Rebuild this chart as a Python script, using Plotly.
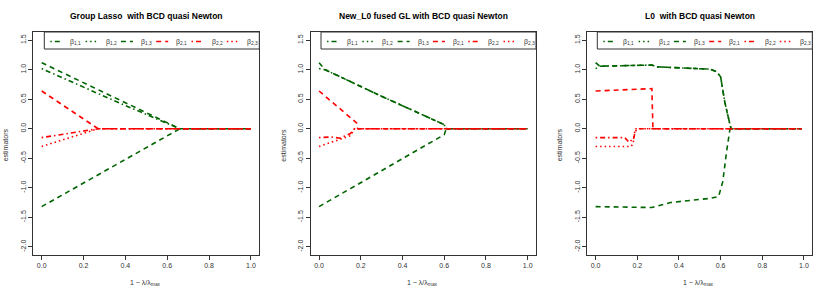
import plotly.graph_objects as go

# ---------------- data ----------------
titles = ["Group Lasso  with BCD quasi Newton",
          "New_L0 fused GL with BCD quasi Newton",
          "L0  with BCD quasi Newton"]
legend_labels = ["β<sub>1,1</sub>", "β<sub>1,2</sub>", "β<sub>1,3</sub>",
                 "β<sub>2,1</sub>", "β<sub>2,2</sub>", "β<sub>2,3</sub>"]
x_ticks = [0.0, 0.2, 0.4, 0.6, 0.8, 1.0]
x_ticktext = ["0.0", "0.2", "0.4", "0.6", "0.8", "1.0"]
y_ticks = [-2.0, -1.5, -1.0, -0.5, 0.0, 0.5, 1.0, 1.5]
y_ticktext = ["-2.0", "-1.5", "-1.0", "-0.5", "0.0", "0.5", "1.0", "1.5"]

# Panel 1: Group Lasso
gl_b11_x = [0.0, 0.35, 0.66, 1.0]
gl_b11_y = [1.02, 0.47, 0.0, 0.0]
gl_b12_x = [0.0, 0.66, 1.0]
gl_b12_y = [-1.32, 0.0, 0.0]
gl_b13_x = [0.0, 0.35, 0.66, 1.0]
gl_b13_y = [1.12, 0.53, 0.0, 0.0]
gl_b21_x = [0.0, 0.27, 1.0]
gl_b21_y = [0.64, 0.0, 0.0]
gl_b22_x = [0.0, 0.27, 1.0]
gl_b22_y = [-0.15, 0.0, 0.0]
gl_b23_x = [0.0, 0.27, 1.0]
gl_b23_y = [-0.30, 0.0, 0.0]

# Panel 2: New_L0 fused GL
nl_b11_x = [0.0, 0.03, 0.3, 0.6, 0.61, 1.0]
nl_b11_y = [1.02, 1.0, 0.55, 0.07, 0.0, 0.0]
nl_b12_x = [0.0, 0.3, 0.6, 0.61, 1.0]
nl_b12_y = [-1.32, -0.71, -0.1, 0.0, 0.0]
nl_b13_x = [0.0, 0.03, 0.3, 0.6, 0.61, 1.0]
nl_b13_y = [1.12, 1.0, 0.55, 0.07, 0.0, 0.0]
nl_b21_x = [0.0, 0.18, 0.185, 1.0]
nl_b21_y = [0.64, 0.1, 0.0, 0.0]
nl_b22_x = [0.0, 0.06, 0.1, 0.15, 0.17, 1.0]
nl_b22_y = [-0.15, -0.14, -0.16, -0.08, 0.0, 0.0]
nl_b23_x = [0.0, 0.1, 0.15, 0.17, 1.0]
nl_b23_y = [-0.30, -0.18, -0.12, 0.0, 0.0]

# Panel 3: L0
l0_b11_x = [0.0, 0.02, 0.27, 0.29, 0.55, 0.58, 0.6, 0.62, 0.645, 0.65, 0.99]
l0_b11_y = [1.02, 1.06, 1.08, 1.05, 1.01, 0.97, 0.88, 0.45, 0.07, 0.0, 0.0]
l0_b12_x = [0.0, 0.27, 0.36, 0.55, 0.59, 0.61, 0.63, 0.645, 0.99]
l0_b12_y = [-1.32, -1.335, -1.25, -1.18, -1.15, -0.9, -0.35, 0.0, 0.0]
l0_b13_x = [0.0, 0.02, 0.27, 0.29, 0.55, 0.58, 0.6, 0.62, 0.645, 0.65, 0.99]
l0_b13_y = [1.12, 1.06, 1.08, 1.05, 1.01, 0.97, 0.88, 0.45, 0.07, 0.0, 0.0]
l0_b21_x = [0.0, 0.25, 0.27, 0.275, 0.99]
l0_b21_y = [0.64, 0.67, 0.68, 0.0, 0.0]
l0_b22_x = [0.0, 0.14, 0.16, 0.17, 0.18, 0.19, 0.2, 0.99]
l0_b22_y = [-0.15, -0.15, -0.23, -0.2, -0.2, -0.05, 0.0, 0.0]
l0_b23_x = [0.0, 0.17, 0.18, 0.19, 0.99]
l0_b23_y = [-0.30, -0.30, -0.25, 0.0, 0.0]

panels = [
    [(gl_b11_x, gl_b11_y), (gl_b12_x, gl_b12_y), (gl_b13_x, gl_b13_y),
     (gl_b21_x, gl_b21_y), (gl_b22_x, gl_b22_y), (gl_b23_x, gl_b23_y)],
    [(nl_b11_x, nl_b11_y), (nl_b12_x, nl_b12_y), (nl_b13_x, nl_b13_y),
     (nl_b21_x, nl_b21_y), (nl_b22_x, nl_b22_y), (nl_b23_x, nl_b23_y)],
    [(l0_b11_x, l0_b11_y), (l0_b12_x, l0_b12_y), (l0_b13_x, l0_b13_y),
     (l0_b21_x, l0_b21_y), (l0_b22_x, l0_b22_y), (l0_b23_x, l0_b23_y)],
]

# ---------------- styles ----------------
GREEN = "#006400"
RED = "#FF0000"
DASHED = "5px,4px"
DOTDASH = "1.5px,3px,5px,3px"
DOTTED = "1.5px,3px"
colors = [GREEN, GREEN, GREEN, RED, RED, RED]
line_dash = [DOTDASH, DASHED, DASHED, DASHED, DOTDASH, DOTTED]
legend_dash = [DOTDASH, DOTTED, DASHED, DASHED, DOTDASH, DOTTED]
FONT = "Liberation Sans, Arial, Helvetica, sans-serif"
W, H = 830, 298

def px(p):
    return p / W

def py(p):
    return 1 - p / H

frames = [(33.3, 259.3), (310.7, 536.0), (587.3, 812.3)]
top, bottom = 32.0, 255.0

fig = go.Figure()
shapes = []
annotations = []

for i, series in enumerate(panels):
    ax = "" if i == 0 else str(i + 1)
    for j, (xs, ys) in enumerate(series):
        fig.add_trace(go.Scatter(
            x=xs, y=ys, mode="lines",
            name=legend_labels[j].replace("<sub>", "").replace("</sub>", ""),
            line=dict(color=colors[j], width=1.6, dash=line_dash[j]),
            showlegend=False, xaxis="x" + ax, yaxis="y" + ax))
    l, r = frames[i]
    fig.layout["xaxis" + ax] = dict(
        domain=[px(l), px(r)], range=[-0.04, 1.04], anchor="y" + ax,
        tickvals=x_ticks, ticktext=x_ticktext, ticks="outside", ticklen=4,
        tickcolor="#333", showline=True, linecolor="#333", linewidth=1,
        mirror=True, showgrid=False, zeroline=False,
        tickfont=dict(family=FONT, size=7, color="#333"))
    fig.layout["yaxis" + ax] = dict(
        domain=[py(bottom), py(top)], range=[-2.14, 1.64], anchor="x" + ax,
        tickvals=y_ticks, ticktext=y_ticktext, ticks="outside", ticklen=4,
        tickcolor="#333", showline=True, linecolor="#333", linewidth=1,
        mirror=True, showgrid=False, zeroline=False, tickangle=-90,
        tickfont=dict(family=FONT, size=7, color="#333"))
    cx = (l + r) / 2
    annotations.append(dict(text="<b>" + titles[i] + "</b>", x=px(cx), y=py(15.7),
                            xref="paper", yref="paper", showarrow=False,
                            xanchor="center", yanchor="middle",
                            font=dict(family=FONT, size=8.5, color="black")))
    annotations.append(dict(text="1 − λ/λ<sub>max</sub>", x=px(cx - 1), y=py(283),
                            xref="paper", yref="paper", showarrow=False,
                            xanchor="center", yanchor="middle",
                            font=dict(family=FONT, size=7, color="#333")))
    annotations.append(dict(text="estimators", x=px(l - 28), y=py(145),
                            xref="paper", yref="paper", showarrow=False,
                            textangle=-90, xanchor="center", yanchor="middle",
                            font=dict(family=FONT, size=7, color="#333")))
    # legend box (top right, inside frame)
    lb_left = r - 215.0
    shapes.append(dict(type="rect", xref="paper", yref="paper",
                       x0=px(lb_left), x1=px(r), y0=py(49), y1=py(top),
                       line=dict(color="#333", width=1), fillcolor="white", layer="above"))
    for j in range(6):
        sx = lb_left + 6 + 35.3 * j
        shapes.append(dict(type="line", xref="paper", yref="paper",
                           x0=px(sx), x1=px(sx + 12), y0=py(41.5), y1=py(41.5),
                           line=dict(color=colors[j], width=1.6, dash=legend_dash[j]),
                           layer="above"))
        annotations.append(dict(text=legend_labels[j], x=px(sx + 18), y=py(41.5),
                                xref="paper", yref="paper", showarrow=False,
                                xanchor="left", yanchor="middle",
                                font=dict(family=FONT, size=7, color="#333")))

fig.update_layout(width=W, height=H, margin=dict(l=0, r=0, t=0, b=0),
                  plot_bgcolor="white", paper_bgcolor="white",
                  showlegend=False, shapes=shapes, annotations=annotations)
fig.write_html("out.html", config={"displayModeBar": False},
               post_script=["document.body.style.margin='0';"])
